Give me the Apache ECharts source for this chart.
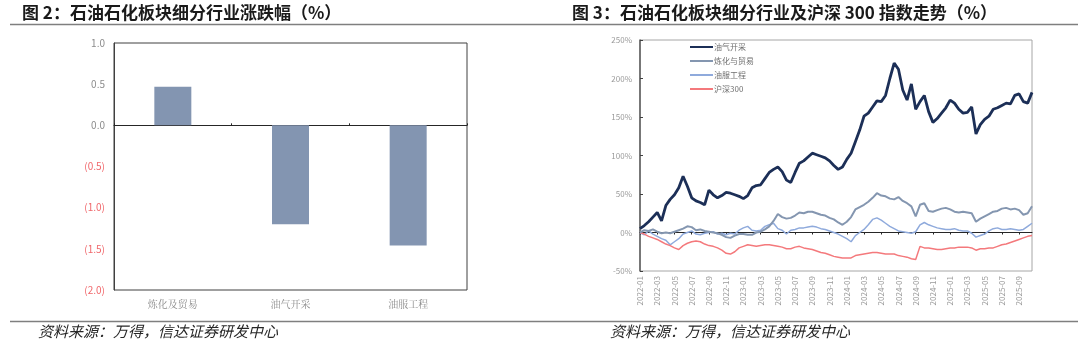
<!DOCTYPE html>
<html>
<head>
<meta charset="utf-8">
<script src="https://cdn.jsdelivr.net/npm/echarts@6/dist/echarts.min.js"></script>
<style>
  html, body { margin: 0; padding: 0; background: #fff; }
  #chart { width: 1080px; height: 352px; }
</style>
</head>
<body>
<div id="chart"></div>
<script>
// left chart: sector change (%)
const sectors = ["炼化及贸易", "油气开采", "油服工程"]
const sectorChange = [0.47, -1.2, -1.46]

// right chart: cumulative return, half-month samples from 2022-01 to 2025-10
const seriesNames = ["油气开采", "炼化与贸易", "油服工程", "沪深300"]
const oilGas = [5, 9, 14, 20, 26, 15, 35, 43, 49, 58, 73, 60, 45, 41, 39, 36, 55, 49, 45, 48,
  52, 51, 49, 47, 44, 48, 58, 61, 62, 70, 78, 82, 85, 79, 68, 65, 78, 90, 93, 98,
  103, 101, 99, 97, 93, 87, 82, 85, 95, 103, 118, 133, 151, 155, 163, 171, 170, 178, 200, 220,
  212, 185, 172, 193, 160, 170, 178, 157, 143, 148, 155, 162, 172, 168, 160, 155, 156, 163, 128, 140,
  147, 151, 160, 162, 165, 168, 167, 178, 180, 170, 168, 182]
const refining = [0, 3, 2, 4, 1, -1, 0, -1, 1, 3, 5, 8, 7, 3, 4, 2, 1, 0, -1, -3,
  -6, -7, -4, -2, -2, -3, -3, 0, 1, 4, 8, 15, 24, 20, 18, 19, 22, 26, 25, 27,
  27, 25, 23, 22, 19, 17, 13, 10, 14, 20, 30, 33, 36, 40, 45, 51, 48, 47, 44, 43,
  46, 41, 38, 34, 21, 36, 38, 28, 27, 29, 31, 32, 30, 27, 26, 27, 26, 25, 14, 18,
  21, 24, 27, 28, 31, 32, 30, 31, 29, 23, 25, 34]
const oilService = [0, -3, 2, -2, -5, -8, -10, -16, -12, -8, -2, 0, 2, -2, -3, -1, 0, 1, -2, -1,
  -3, -1, -2, 3, 6, 8, 3, 2, 3, 8, 10, 12, 5, 3, -2, 3, 4, 6, 6, 7,
  8, 7, 5, 4, 2, 0, -2, -5, -8, -12, -4, 0, 4, 10, 17, 19, 16, 12, 8, 5,
  2, 1, 0, -1, 1, 10, 13, 10, 8, 6, 5, 4, 4, 5, 3, 2, 2, -1, -6, -4,
  -2, 2, 5, 6, 4, 4, 5, 4, 3, 4, 8, 12]
const hs300 = [0, -2, -5, -7, -9, -12, -15, -17, -20, -22, -17, -14, -12, -11, -12, -15, -17, -18, -20, -23,
  -27, -28, -25, -20, -18, -16, -17, -18, -17, -16, -16, -17, -18, -19, -21, -21, -19, -18, -20, -21,
  -22, -24, -26, -27, -29, -31, -32, -33, -33, -33, -30, -29, -28, -27, -26, -26, -27, -28, -28, -28,
  -30, -31, -32, -34, -35, -18, -20, -20, -21, -22, -22, -21, -20, -20, -19, -19, -19, -20, -23, -21,
  -21, -20, -20, -18, -16, -15, -13, -11, -9, -7, -5, -4]

const dates = []
for (let i = 0; i < oilGas.length; i++) {
  const m = Math.floor(i / 2)
  const y = 2022 + Math.floor(m / 12)
  const mm = String(m % 12 + 1).padStart(2, "0")
  dates.push(`${y}-${mm}-${i % 2 === 0 ? "01" : "16"}`)
}

const chart = echarts.init(document.getElementById("chart"), null, { renderer: "canvas" })

const font = "'Noto Sans CJK SC', 'Noto Sans', sans-serif"
const gray = "#8c8c8c"

chart.setOption({
  backgroundColor: "#fff",
  textStyle: { fontFamily: font },
  animation: false,
  graphic: [
    { type: "text", left: 22, top: 4, style: { text: "图 2：石油石化板块细分行业涨跌幅（%）", font: `bold 17px ${font}`, fill: "#1a1a1a" } },
    { type: "text", left: 572, top: 4, style: { text: "图 3：石油石化板块细分行业及沪深 300 指数走势（%）", font: `bold 17px ${font}`, fill: "#1a1a1a" } },
    { type: "line", shape: { x1: 10, y1: 24.5, x2: 1078, y2: 24.5 }, style: { stroke: "#7f7f7f", lineWidth: 1.5 } },
    { type: "line", shape: { x1: 10, y1: 321.5, x2: 1078, y2: 321.5 }, style: { stroke: "#7f7f7f", lineWidth: 1.5 } },
    { type: "text", left: 38, top: 324, style: { text: "资料来源：万得，信达证券研发中心", font: `italic 15px ${font}`, fill: "#262626" } },
    { type: "text", left: 610, top: 324, style: { text: "资料来源：万得，信达证券研发中心", font: `italic 15px ${font}`, fill: "#262626" } }
  ],
  legend: {
    data: seriesNames,
    orient: "vertical",
    left: 685,
    top: 37,
    icon: "rect",
    itemWidth: 23,
    itemHeight: 2,
    itemGap: 4,
    textStyle: { fontSize: 8, lineHeight: 10, color: "#707070", padding: [0, 0, 0, -4] }
  },
  grid: [
    { left: 114, top: 43, width: 353, height: 247, show: true, borderColor: "#404040", borderWidth: 1 },
    { left: 640, top: 40, width: 392, height: 231, show: true, borderColor: "#a6a6a6", borderWidth: 1 }
  ],
  xAxis: [
    {
      gridIndex: 0, type: "category", data: sectors, position: "bottom",
      axisLine: { show: false, onZero: false }, axisTick: { show: false },
      axisLabel: { color: gray, fontSize: 10, margin: 9, fontFamily: "'Noto Serif CJK SC', 'Noto Sans CJK SC', serif" }
    },
    {
      gridIndex: 0, type: "category", data: sectors, position: "top",
      axisLine: { show: true, onZero: true, onZeroAxisIndex: 0, lineStyle: { color: "#262626", width: 1 } },
      axisTick: { show: true, length: 2, lineStyle: { color: "#262626" } },
      axisLabel: { show: false }
    },
    {
      gridIndex: 1, type: "category", data: dates, boundaryGap: false, position: "bottom",
      axisLine: { show: false, onZero: false }, axisTick: { show: false },
      axisLabel: { interval: 3, rotate: 90, fontSize: 8, color: "#9a9a9a", margin: 5, formatter: (v) => v.slice(0, 7) }
    },
    {
      gridIndex: 1, type: "category", data: dates, boundaryGap: false, position: "top",
      axisLine: { show: true, onZero: true, onZeroAxisIndex: 1, lineStyle: { color: "#262626", width: 1 } },
      axisTick: { show: true, interval: 3, length: 2, inside: true, lineStyle: { color: "#262626" } },
      axisLabel: { show: false }
    }
  ],
  yAxis: [
    {
      gridIndex: 0, type: "value", min: -2, max: 1, interval: 0.5,
      axisLine: { show: true, onZero: false, lineStyle: { color: "#404040" } },
      axisTick: { show: false },
      splitLine: { show: false },
      axisLabel: {
        fontSize: 10, margin: 9,
        color: (v) => (v < 0 ? "#f0676b" : gray),
        formatter: (v) => (v < 0 ? `(${Math.abs(v).toFixed(1)})` : v.toFixed(1))
      }
    },
    {
      gridIndex: 1, type: "value", min: -50, max: 250, interval: 50,
      axisLine: { show: true, onZero: false, lineStyle: { color: "#595959", width: 1.5 } },
      axisTick: { show: true, inside: true, length: 3, lineStyle: { color: "#404040" } },
      splitLine: { show: false },
      axisLabel: { fontSize: 8, color: "#9a9a9a", margin: 8, formatter: "{value}%" }
    }
  ],
  series: [
    {
      type: "bar", xAxisIndex: 0, yAxisIndex: 0, data: sectorChange,
      barWidth: 37, itemStyle: { color: "#8395b1" }
    },
    {
      name: seriesNames[0], type: "line", xAxisIndex: 2, yAxisIndex: 1, data: oilGas,
      symbol: "none", z: 5, lineStyle: { color: "#1c2f57", width: 2.8 }, itemStyle: { color: "#1c2f57" }
    },
    {
      name: seriesNames[1], type: "line", xAxisIndex: 2, yAxisIndex: 1, data: refining,
      symbol: "none", z: 4, lineStyle: { color: "#8496b0", width: 2 }, itemStyle: { color: "#8496b0" }
    },
    {
      name: seriesNames[2], type: "line", xAxisIndex: 2, yAxisIndex: 1, data: oilService,
      symbol: "none", z: 3, lineStyle: { color: "#8faadc", width: 1.5 }, itemStyle: { color: "#8faadc" }
    },
    {
      name: seriesNames[3], type: "line", xAxisIndex: 2, yAxisIndex: 1, data: hs300,
      symbol: "none", z: 3, lineStyle: { color: "#f4797c", width: 1.5 }, itemStyle: { color: "#f4797c" }
    }
  ]
})
</script>
</body>
</html>
